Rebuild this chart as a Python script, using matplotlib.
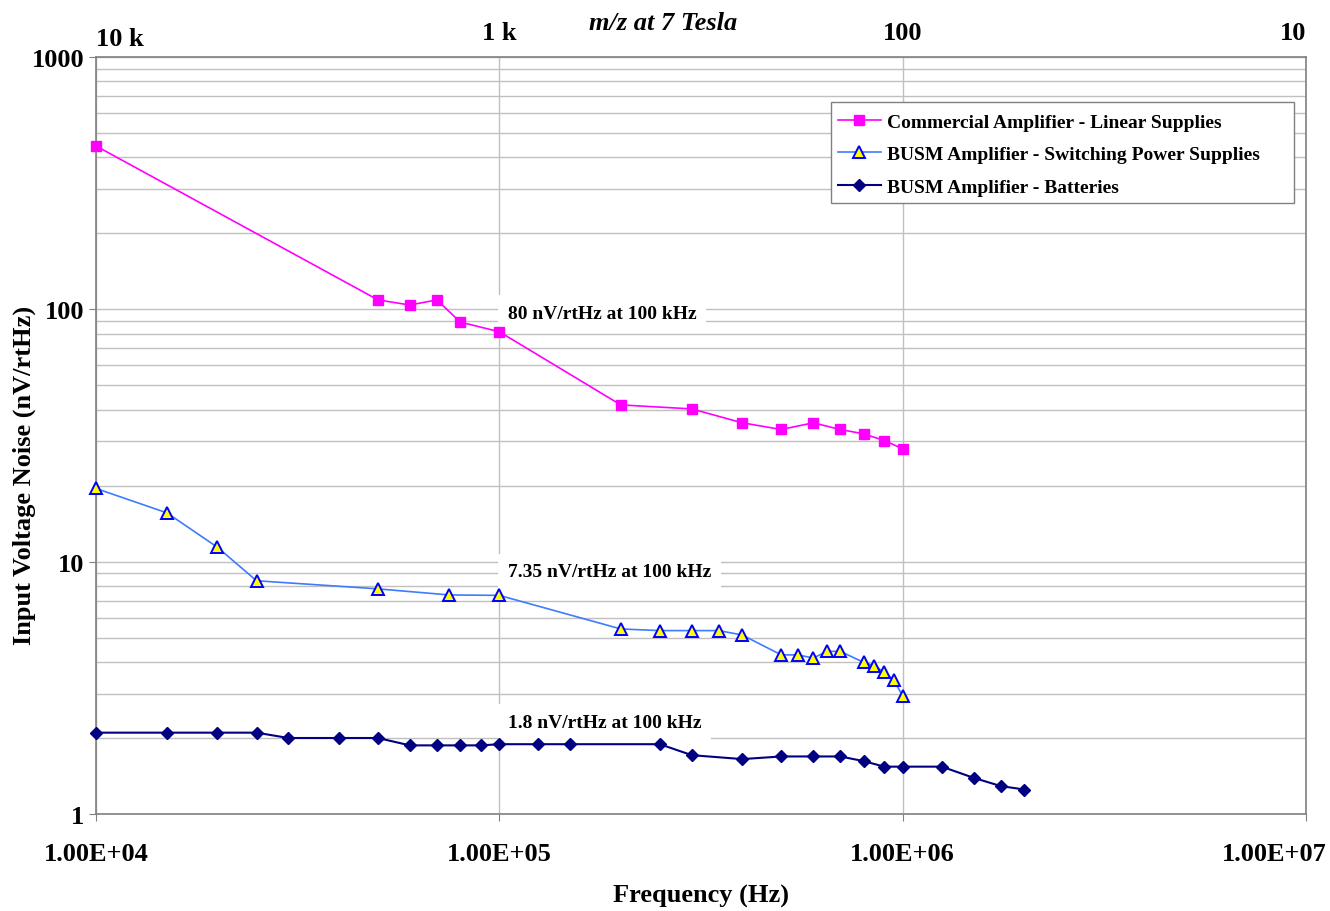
#!/usr/bin/env python3
"""Input voltage noise vs frequency for three amplifier setups"""

import matplotlib
matplotlib.use('Agg')
import matplotlib.pyplot as plt
from matplotlib.patches import Rectangle
from matplotlib.ticker import LogLocator, NullFormatter
from matplotlib.transforms import ScaledTranslation

plt.rcParams['font.family'] = ['Liberation Serif', 'DejaVu Serif']
plt.rcParams['font.weight'] = 'bold'

# data
comm_f = [1e4, 5e4, 6e4, 7e4, 8e4, 1e5, 2e5, 3e5, 4e5, 5e5, 6e5, 7e5, 8e5, 9e5, 1e6]
comm_v = [444, 109, 104, 109, 89, 81.5, 41.8, 40.3, 35.5, 33.4, 35.5, 33.4, 32.1, 30.2, 28.0]

sw_f = [1e4, 1.5e4, 2e4, 2.5e4, 5e4, 7.5e4, 1e5, 2e5, 2.5e5, 3e5, 3.5e5, 4e5,
        5e5, 5.5e5, 6e5, 6.5e5, 7e5, 8e5, 8.5e5, 9e5, 9.5e5, 1e6]
sw_v = [19.5, 15.6, 11.4, 8.4, 7.8, 7.38, 7.35, 5.41, 5.33, 5.33, 5.33, 5.12,
        4.27, 4.27, 4.15, 4.41, 4.41, 3.99, 3.87, 3.64, 3.40, 2.93]

bat_f = [1e4, 1.5e4, 2e4, 2.5e4, 3e4, 4e4, 5e4, 6e4, 7e4, 8e4, 9e4, 1e5, 1.25e5, 1.5e5,
         2.5e5, 3e5, 4e5, 5e5, 6e5, 7e5, 8e5, 9e5, 1e6, 1.25e6, 1.5e6, 1.75e6, 2e6]
bat_v = [2.1, 2.1, 2.1, 2.1, 2.0, 2.0, 2.0, 1.87, 1.87, 1.87, 1.87, 1.89, 1.89, 1.89,
         1.89, 1.71, 1.65, 1.69, 1.69, 1.69, 1.62, 1.54, 1.54, 1.54, 1.39, 1.29, 1.25]

labels = ['Commercial Amplifier - Linear Supplies',
          'BUSM Amplifier - Switching Power Supplies',
          'BUSM Amplifier - Batteries']

x_ticks = [1e4, 1e5, 1e6, 1e7]
x_ticklabels = ['1.00E+04', '1.00E+05', '1.00E+06', '1.00E+07']
y_ticks = [1, 10, 100, 1000]
y_ticklabels = ['1', '10', '100', '1000']
mz_labels = ['10 k', '1 k', '100', '10']

notes = ['80 nV/rtHz at 100 kHz', '7.35 nV/rtHz at 100 kHz', '1.8 nV/rtHz at 100 kHz']
note_y = [96.5, 9.1, 2.3]

fig = plt.figure(figsize=(13.3, 9.12), dpi=100)
ax = fig.add_axes([0.0722, 0.1064, 0.9098, 0.83])

ax.set_xscale('log')
ax.set_yscale('log')
ax.set_xlim(1e4, 1e7)
ax.set_ylim(1, 1000)

# grid: every minor step horizontally, decades vertically
ax.yaxis.set_minor_locator(LogLocator(base=10, subs=range(2, 10)))
ax.yaxis.set_minor_formatter(NullFormatter())
ax.xaxis.set_minor_locator(LogLocator(base=10, subs=[]))
ax.grid(True, which='major', axis='both', color='#c0c0c0', linewidth=1)
ax.grid(True, which='minor', axis='y', color='#c0c0c0', linewidth=1)
ax.set_axisbelow(True)

ax.plot(comm_f, comm_v, '-s', color='#ff00ff', linewidth=1.2, markersize=7,
        label=labels[0], zorder=3, clip_on=False)
ax.plot(sw_f, sw_v, '-^', color='#3d7bff', linewidth=1.2, markersize=8.5,
        markerfacecolor='#ffff00', markeredgecolor='#0000ff', markeredgewidth=1.4,
        label=labels[1], zorder=3, clip_on=False)
ax.plot(bat_f, bat_v, '-D', color='#000080', linewidth=1.5, markersize=6,
        label=labels[2], zorder=3, clip_on=False)

ax.set_xticks(x_ticks)
ax.set_xticklabels(x_ticklabels)
ax.set_yticks(y_ticks)
ax.set_yticklabels(y_ticklabels)
ax.tick_params(axis='both', which='major', labelsize=19, color='#808080', length=5)
ax.tick_params(axis='x', pad=15)
ax.tick_params(axis='both', which='minor', length=0)
for s in ax.spines.values():
    s.set_color('#808080')
    s.set_linewidth(1.2)
# last bottom label sits inside the figure, like the original
last = ax.get_xticklabels()[-1]
last.set_transform(last.get_transform() + ScaledTranslation(-0.32, 0, fig.dpi_scale_trans))

ax.set_xlabel('Frequency (Hz)', fontsize=19, fontweight='bold', labelpad=14)
ax.set_ylabel('Input Voltage Noise (nV/rtHz)', fontsize=19, fontweight='bold')
ax.yaxis.set_label_coords(-0.050, 0.449)

# top m/z scale
tr = ax.get_xaxis_transform()
for i, (xp, lab) in enumerate(zip(x_ticks, mz_labels)):
    ha = 'left' if i == 0 else ('right' if i == len(x_ticks) - 1 else 'center')
    dy = 1.024 if i == 0 else 1.033
    ax.text(xp, dy, lab, transform=tr, ha=ha, va='center', fontsize=19,
            fontweight='bold')
ax.text(0.469, 1.046, 'm/z at 7 Tesla', transform=ax.transAxes, ha='center',
        va='center', fontsize=19, fontweight='bold', fontstyle='italic')

for txt, yv in zip(notes, note_y):
    ax.annotate(txt, xy=(1e5, yv), xytext=(6, 0), textcoords='offset points',
                ha='left', va='center', fontsize=14, fontweight='bold',
                bbox=dict(boxstyle='square,pad=0.5', facecolor='white', edgecolor='none'),
                zorder=2)

# legend box drawn separately so it keeps the wide right margin of the original
ax.add_patch(Rectangle((0.607, 0.807), 0.383, 0.1335, transform=ax.transAxes,
                       facecolor='white', edgecolor='#808080', linewidth=1, zorder=4))
leg = ax.legend(loc='upper left', bbox_to_anchor=(0.6132, 0.926), borderaxespad=0,
                borderpad=0, fontsize=14, frameon=False,
                labelspacing=0.77, handlelength=2.2, handletextpad=0.3)
leg.set_zorder(5)
for t in leg.get_texts():
    t.set_fontweight('bold')

plt.savefig('out.png', dpi=100)
plt.close()
